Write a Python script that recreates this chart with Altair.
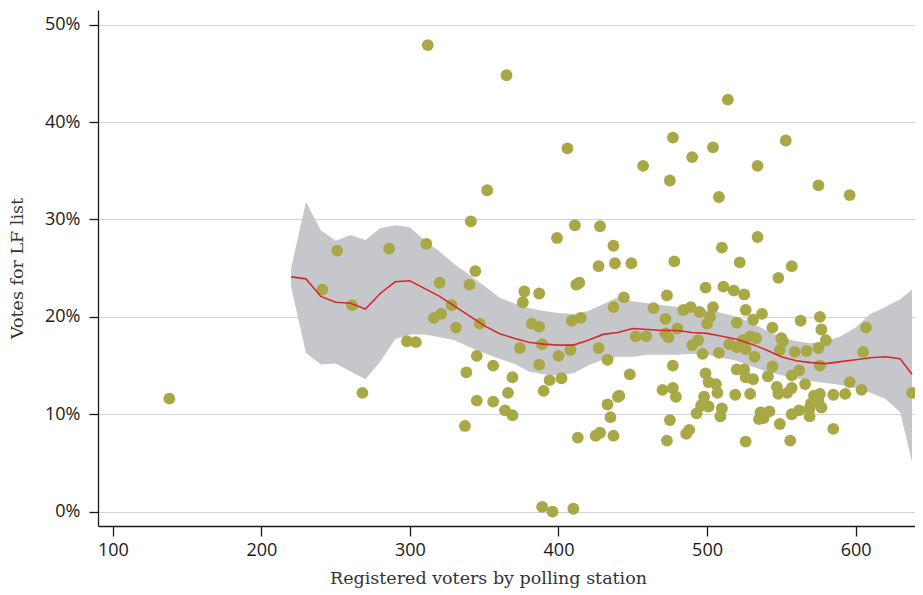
import altair as alt
import pandas as pd

# ---- scatter data: registered voters vs. LF vote share (%) ----
voters = [138, 241, 251, 261, 268, 286, 311, 320, 328, 316, 321, 331, 298, 304,
          312, 365, 406, 352, 341, 411, 428, 399, 437, 427, 438, 344, 340, 412,
          414, 377, 387, 376, 347, 382, 387, 409, 415, 437, 374, 389, 400, 408,
          427, 433, 345, 356, 338, 387, 369, 394, 402, 390, 366, 345, 356, 364,
          369, 337, 433, 435, 440, 413, 425, 428, 437, 389, 396, 410,
          514, 477, 553, 504, 490, 457, 534, 475, 575, 508, 596, 534, 510, 449,
          478, 522, 557, 548, 444, 473, 499, 511, 518, 525, 464, 472, 484, 489,
          495, 504, 502, 500, 526, 520, 531, 537, 544, 550, 551, 563, 576, 577,
          580, 575, 567, 559, 607, 605, 638, 604, 596, 593, 585, 576, 585, 544,
          541, 557, 562, 566, 547, 548, 554, 557, 572, 576, 575, 570, 577, 569,
          569, 562, 557, 542, 535, 538, 549, 556, 526, 529, 519, 520, 525, 526,
          531, 515, 520, 524, 529, 533, 526, 532, 508, 497, 490, 494, 480, 472,
          474, 459, 452, 477, 448, 499, 501, 506, 507, 498, 496, 501, 493, 510,
          509, 470, 477, 479, 475, 486, 488, 473, 441, 549, 536]
share = [11.6, 22.8, 26.8, 21.2, 12.2, 27.0, 27.5, 23.5, 21.2, 19.9, 20.3, 18.9, 17.5, 17.4,
         47.9, 44.8, 37.3, 33.0, 29.8, 29.4, 29.3, 28.1, 27.3, 25.2, 25.5, 24.7, 23.3, 23.3,
         23.5, 22.6, 22.4, 21.5, 19.3, 19.3, 19.0, 19.6, 19.9, 21.0, 16.8, 17.2, 16.0, 16.6,
         16.8, 15.6, 16.0, 15.0, 14.3, 15.1, 13.8, 13.5, 13.7, 12.4, 12.2, 11.4, 11.3, 10.4,
         9.9, 8.8, 11.0, 9.7, 11.8, 7.6, 7.8, 8.1, 7.8, 0.5, 0.0, 0.3,
         42.3, 38.4, 38.1, 37.4, 36.4, 35.5, 35.5, 34.0, 33.5, 32.3, 32.5, 28.2, 27.1, 25.5,
         25.7, 25.6, 25.2, 24.0, 22.0, 22.2, 23.0, 23.1, 22.7, 22.3, 20.9, 19.8, 20.7, 21.0,
         20.5, 21.0, 20.0, 19.3, 20.7, 19.4, 19.7, 20.3, 18.9, 17.8, 17.5, 19.6, 20.0, 18.7,
         17.6, 16.8, 16.5, 16.4, 18.9, 16.4, 12.2, 12.5, 13.3, 12.1, 12.0, 15.0, 8.5, 14.9,
         13.9, 14.0, 14.5, 13.1, 12.8, 12.1, 12.2, 12.7, 11.9, 12.1, 11.4, 11.1, 10.7, 10.6,
         9.8, 10.4, 10.0, 10.3, 9.5, 9.6, 9.0, 7.3, 7.2, 12.1, 12.0, 14.6, 14.6, 13.8,
         13.6, 17.2, 16.9, 17.6, 18.0, 17.8, 16.7, 15.9, 16.3, 16.2, 17.1, 17.6, 18.8, 18.3,
         17.9, 18.0, 18.0, 15.0, 14.1, 14.2, 13.3, 13.1, 12.2, 11.8, 10.9, 10.8, 10.1, 10.6,
         9.8, 12.5, 12.7, 11.8, 9.4, 8.0, 8.4, 7.3, 11.9, 16.6, 10.2]

# ---- smoothed fit with confidence band (%) ----
fit_x = [220, 230, 240, 250, 260, 270, 280, 290, 300, 310, 320, 330, 340, 350, 360,
         370, 380, 390, 400, 410, 420, 430, 440, 450, 460, 470, 480, 490, 500, 510,
         520, 530, 540, 550, 560, 570, 580, 590, 600, 610, 620, 630, 638]
fit_mid = [24.1, 23.9, 22.1, 21.5, 21.4, 20.8, 22.4, 23.6, 23.7, 22.9, 22.1, 21.1, 20.1, 19.1, 18.3,
           17.8, 17.4, 17.2, 17.1, 17.1, 17.6, 18.2, 18.4, 18.8, 18.7, 18.6, 18.6, 18.4, 18.3, 18.0,
           17.7, 17.2, 16.6, 15.9, 15.5, 15.3, 15.2, 15.4, 15.6, 15.8, 15.9, 15.7, 14.1]
fit_hi = [25.0, 31.8, 28.9, 27.8, 28.4, 27.9, 29.1, 29.4, 29.2, 27.8, 26.7, 25.4, 24.3, 23.2, 22.0,
          21.4, 20.9, 20.6, 20.4, 20.3, 20.6, 21.3, 22.0, 21.6, 21.4, 21.2, 21.0, 20.8, 20.7, 20.4,
          20.0, 19.4, 18.6, 17.9, 17.5, 17.3, 17.5, 18.0, 18.9, 20.3, 21.0, 21.8, 22.8]
fit_lo = [23.1, 16.3, 15.1, 15.2, 14.4, 13.6, 15.4, 17.7, 18.2, 18.2, 17.9, 17.6, 16.9, 16.3, 15.7,
          15.2, 14.4, 14.1, 14.0, 14.2, 15.0, 15.6, 15.9, 15.9, 16.1, 16.1, 16.1, 16.2, 16.1, 15.8,
          15.5, 14.9, 14.4, 14.0, 13.7, 13.4, 13.2, 13.0, 12.7, 12.2, 11.6, 10.2, 5.1]

x_ticks = [100, 200, 300, 400, 500, 600]
y_ticks = [0, 0.1, 0.2, 0.3, 0.4, 0.5]

pts = pd.DataFrame({"voters": voters, "share": [s / 100 for s in share]})
fit = pd.DataFrame({
    "voters": fit_x,
    "mid": [v / 100 for v in fit_mid],
    "hi": [v / 100 for v in fit_hi],
    "lo": [v / 100 for v in fit_lo],
})

xscale = alt.Scale(domain=[90, 640], nice=False, zero=False)
yscale = alt.Scale(domain=[-0.0147, 0.515], nice=False, zero=False)

xaxis = alt.Axis(
    title="Registered voters by polling station", values=x_ticks, format="d",
    grid=False, tickSize=10, labelPadding=5, titlePadding=10, titleX=390,
)
yaxis = alt.Axis(
    title="Votes for LF list", values=y_ticks, format=".0%",
    grid=True, gridColor="#d3d3d3", gridWidth=1.2,
    tickSize=9, labelPadding=9, titlePadding=18,
)

band = alt.Chart(fit).mark_area(color="#c6c7cb", opacity=1).encode(
    x=alt.X("voters:Q", scale=xscale, axis=xaxis),
    y=alt.Y("hi:Q", scale=yscale, axis=yaxis),
    y2="lo:Q",
)
points = alt.Chart(pts).mark_circle(size=140, color="#a9a847", opacity=1).encode(
    x=alt.X("voters:Q", scale=xscale),
    y=alt.Y("share:Q", scale=yscale),
)
line = alt.Chart(fit).mark_line(color="#d42a2f", strokeWidth=1.6).encode(
    x=alt.X("voters:Q", scale=xscale),
    y=alt.Y("mid:Q", scale=yscale),
)

chart = (
    alt.layer(band, points, line)
    .properties(width=817, height=516,
                autosize=alt.AutoSizeParams(type="none"),
                padding={"left": 90, "top": 2, "right": 0, "bottom": 72})
    .configure_view(stroke=None)
    .configure_axis(
        domainColor="#1a1a1a", domainWidth=1.3,
        tickColor="#1a1a1a", tickWidth=1.3,
        labelFont="Open Sans", labelFontSize=18, labelColor="#1a1a1a",
        titleFont="DejaVu Serif", titleFontSize=17.5, titleFontWeight="normal",
        titleColor="#333333",
    )
)

chart.save("out.html", embed_options={"renderer": "svg", "actions": False})
